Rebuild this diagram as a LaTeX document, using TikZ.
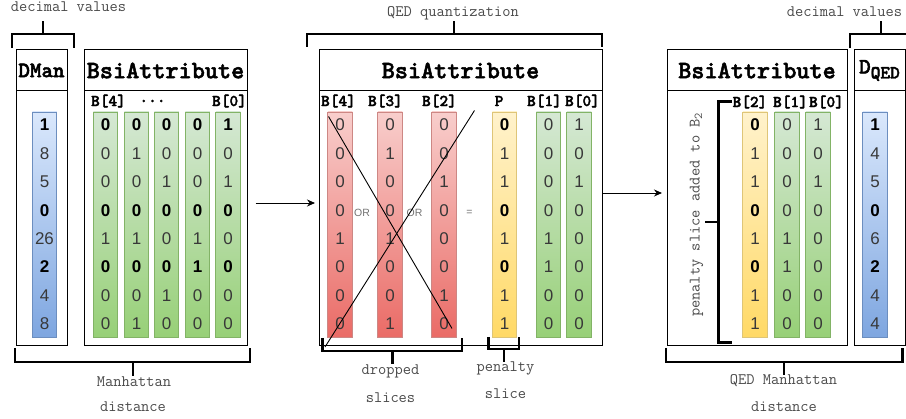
\documentclass[tikz,border=0pt]{standalone}
\usepackage{fontspec}
\setmainfont{Liberation Sans}
\newfontfamily\ttbold{lmmonolt10-bold}[Extension=.otf, FakeBold=2]
\usetikzlibrary{arrows.meta}
\definecolor{gTop}{HTML}{D5E8D4}\definecolor{gBot}{HTML}{97D077}\definecolor{gBd}{HTML}{82B366}
\definecolor{rTop}{HTML}{F8CECC}\definecolor{rBot}{HTML}{EA6B66}\definecolor{rBd}{HTML}{B85450}
\definecolor{yTop}{HTML}{FFF2CC}\definecolor{yBot}{HTML}{FFD966}\definecolor{yBd}{HTML}{D6B656}
\definecolor{bTop}{HTML}{DAE8FC}\definecolor{bBot}{HTML}{7EA6E0}\definecolor{bBd}{HTML}{6C8EBF}
\definecolor{annoc}{HTML}{4A4A4A}
\newcommand\bd[1]{\textbf{\color{black}#1}}
\newcommand\slicecol[4]{%
  \node[#3] (#1) at (#2,224.5) {};
  \foreach \v [count=\i] in {#4}{%
    \node[digit] (#1-\i) at (#2,{125+(\i-1)*28.4}) {\v};
  }%
}
\begin{document}
\begin{tikzpicture}[x=1pt,y=-1pt,
  slicebox/.style={draw, line width=0.8pt, minimum width=24.5pt, minimum height=225pt, inner sep=0pt},
  gslice/.style={slicebox, draw=gBd, top color=gTop, bottom color=gBot},
  rslice/.style={slicebox, draw=rBd!70, top color=rTop, bottom color=rBot},
  yslice/.style={slicebox, draw=yBd!80, top color=yTop, bottom color=yBot},
  bslice/.style={slicebox, draw=bBd, top color=bTop, bottom color=bBot},
  digit/.style={inner sep=0pt, text=black!78, font=\fontsize{17}{17}\selectfont},
  panel/.style={draw, line width=1pt, inner sep=0pt, minimum height=#1},
  hdr/.style={panel=41pt},
  bdy/.style={panel=255pt},
  ttl/.style={font=\ttbold\fontsize{25}{25}\selectfont},
  ttls/.style={font=\ttbold\fontsize{22}{22}\selectfont},
  lbl/.style={inner sep=0pt, font=\ttbold\fontsize{16.5}{16.5}\selectfont},
  anno/.style={inner sep=0pt, anchor=base, text=annoc, font=\ttfamily\fontsize{16}{16}\selectfont},
  op/.style={inner sep=0pt, text=black!55, font=\fontsize{10.5}{10.5}\selectfont},
  brk/.style={line width=2.5pt},
  arr/.style={line width=0.9pt, -{Stealth[length=8pt,width=7pt]}},
  cross/.style={line width=0.9pt}
]
\useasboundingbox (0,0) rectangle (906,419);

% ---------------- left part
\node[hdr, minimum width=51pt, ttls] (dmanH) at (41.5,70.5) {DMan};
\node[bdy, minimum width=51pt] (dmanB) at (41.5,218.5) {};
\node[hdr, minimum width=163pt, ttl] (bsiLH) at (165.5,70.5) {BsiAttribute};
\node[bdy, minimum width=163pt] (bsiLB) at (165.5,218.5) {};
\node[lbl] (lB4) at (108.5,101) {B[4]};
\node[lbl] (ldots) at (152.5,101) {...};
\node[lbl] (lB0) at (229.5,101) {B[0]};
\slicecol{dm}{44.5}{bslice}{\bd1,8,5,\bd0,26,\bd2,4,8}
\slicecol{L4}{105.5}{gslice}{\bd0,0,0,\bd0,1,\bd0,0,0}
\slicecol{L3}{136.5}{gslice}{\bd0,1,0,\bd0,1,\bd0,0,1}
\slicecol{L2}{166.5}{gslice}{\bd0,0,1,\bd0,0,\bd0,1,0}
\slicecol{L1}{197.5}{gslice}{\bd0,0,0,\bd0,1,\bd1,0,0}
\slicecol{L0}{228}{gslice}{\bd1,0,1,\bd0,0,\bd0,0,0}
% brackets
\draw[brk] (12,48) -- (12,34) -- (74,34) -- (74,48);
\draw[brk] (43,34) -- (43,21);
\node[anno] (t1) at (68.5,12) {decimal values};
\draw[brk] (15,348) -- (15,362) -- (250,362) -- (250,348);
\draw[brk] (133,362) -- (133,376);
\node[anno] (t2) at (134,386.5) {Manhattan};
\node[anno] (t3) at (133,411.5) {distance};

% ---------------- middle part
\node[hdr, minimum width=283pt, ttl] (bsiMH) at (460.5,70.5) {BsiAttribute};
\node[bdy, minimum width=283pt] (bsiMB) at (460.5,218.5) {};
\node[lbl] (mB4) at (338.5,101) {B[4]};
\node[lbl] (mB3) at (385.5,101) {B[3]};
\node[lbl] (mB2) at (439.5,101) {B[2]};
\node[lbl] (mP) at (499,101) {P};
\node[lbl] (mB1) at (544.5,101) {B[1]};
\node[lbl] (mB0) at (582.5,101) {B[0]};
\slicecol{M4}{340}{rslice}{0,0,0,0,1,0,0,0}
\slicecol{M3}{390}{rslice}{0,1,0,0,1,0,0,1}
\slicecol{M2}{444}{rslice}{0,0,1,0,0,0,1,0}
\slicecol{MP}{504.5}{yslice}{\bd0,1,1,\bd0,1,\bd0,1,1}
\slicecol{M1}{548.5}{gslice}{0,0,0,0,1,1,0,0}
\slicecol{M0}{579}{gslice}{1,0,1,0,0,0,0,0}
\node[op] (or1) at (362,213) {OR};
\node[op] (or2) at (414.5,213) {OR};
\node[op] (eq) at (469.5,213) {=};
\coordinate (c1a) at (328.5,116.5);
\coordinate (c1b) at (452,328.5);
\coordinate (c2a) at (474.5,110.5);
\coordinate (c2b) at (325,347);
\draw[cross] (c1a) -- (c1b);
\draw[cross] (c2a) -- (c2b);
\draw[brk] (307,47) -- (307,34) -- (602,34) -- (602,47);
\draw[brk] (454,34) -- (454,21);
\node[anno] (t4) at (453,17) {QED quantization};
\draw[brk] (322.5,338) -- (322.5,351) -- (462,351) -- (462,338);
\draw[brk] (392.5,351) -- (392.5,364);
\node[anno] (t5) at (390.5,374.5) {dropped};
\node[anno] (t6) at (390.5,402.5) {slices};
\draw[brk] (488.5,337) -- (488.5,349) -- (519,349) -- (519,337);
\draw[brk] (504,349) -- (504,362);
\node[anno] (t7) at (505.5,372) {penalty};
\node[anno] (t8) at (505.5,399) {slice};

% ---------------- right part
\node[hdr, minimum width=180pt, ttl] (bsiRH) at (757,70.5) {BsiAttribute};
\node[bdy, minimum width=180pt] (bsiRB) at (757,218.5) {};
\node[hdr, minimum width=51pt, ttls] (dqH) at (879.5,70.5) {D\raisebox{-5pt}{\fontsize{18.5}{18.5}\selectfont QED}};
\node[bdy, minimum width=51pt] (dqB) at (879.5,218.5) {};
\node[lbl] (rB2) at (750,102) {B[2]};
\node[lbl] (rB1) at (790.5,102) {B[1]};
\node[lbl] (rB0) at (826.5,102) {B[0]};
\slicecol{R2}{755}{yslice}{\bd0,1,1,\bd0,1,\bd0,1,1}
\slicecol{R1}{787}{gslice}{0,0,0,0,1,1,0,0}
\slicecol{R0}{818}{gslice}{1,0,1,0,0,0,0,0}
\slicecol{dq}{875}{bslice}{\bd1,4,5,\bd0,6,\bd2,4,4}
\draw[brk] (732,101.5) -- (718.5,101.5) -- (718.5,342.5) -- (732,342.5);
\draw[brk] (718.5,222) -- (705,222);
\node[inner sep=0pt, rotate=90, text=annoc, font=\ttfamily\fontsize{16}{16}\selectfont] (rot) at (696.5,215) {penalty slice added to B\raisebox{-2.5pt}{\fontsize{12}{12}\selectfont 2}};
\draw[brk] (850,48) -- (850,34) -- (907,34);
\draw[brk] (881,34) -- (881,21);
\node[anno] (t9) at (844.5,17) {decimal values};
\draw[brk] (666,348) -- (666,362) -- (902.5,362) -- (902.5,348);
\draw[brk] (784,362) -- (784,375);
\node[anno] (t10) at (783.5,385) {QED Manhattan};
\node[anno] (t11) at (784,411.5) {distance};

% ---------------- arrows
\coordinate (ya) at (0,203);
\coordinate (yb) at (0,193);
\draw[arr, shorten <=8pt, shorten >=3.5pt] (bsiLB.east |- ya) -- (bsiMB.west |- ya);
\draw[arr, shorten >=4.5pt] (bsiMB.east |- yb) -- (bsiRB.west |- yb);
\end{tikzpicture}
\end{document}
